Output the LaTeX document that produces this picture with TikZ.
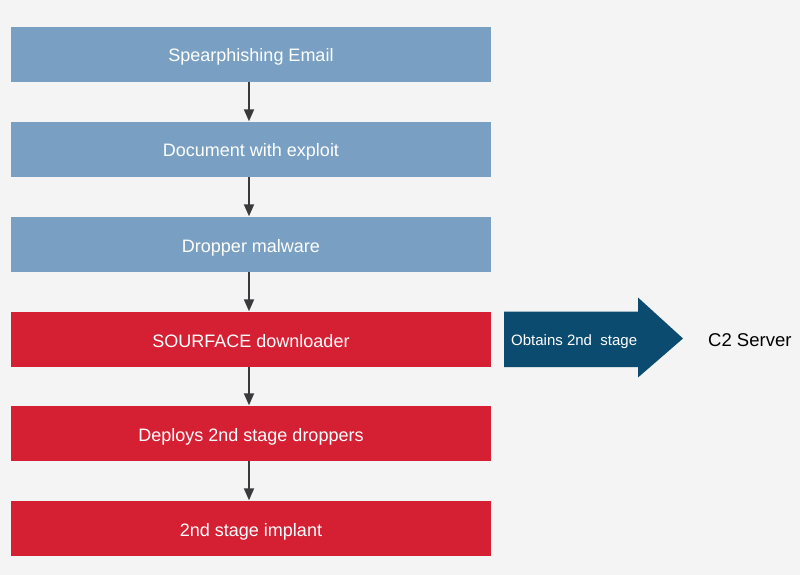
\documentclass[tikz,border=0pt]{standalone}
\usepackage{fontspec}
\setmainfont{Liberation Sans}
\usetikzlibrary{arrows.meta}
\definecolor{bg}{HTML}{F4F4F4}
\definecolor{boxblue}{HTML}{79A0C3}
\definecolor{boxred}{HTML}{D52034}
\definecolor{navy}{HTML}{0B4B70}
\definecolor{arr}{HTML}{3A3A3C}
\begin{document}
\begin{tikzpicture}[x=1pt,y=-1pt,
  stagebox/.style={rectangle, minimum width=480pt, minimum height=55pt, inner sep=0pt,
    text height=15pt, text depth=0pt,
    text=white, font=\fontsize{18}{21}\selectfont},
  bluebox/.style={stagebox, fill=boxblue},
  redbox/.style={stagebox, fill=boxred},
  flow/.style={draw=arr, line width=1.8pt, -{Triangle[length=12pt,width=10pt]}, shorten >=0.5pt}]
\fill[bg] (0,0) rectangle (800,575);
\useasboundingbox (0,0) rectangle (800,575);
\node[bluebox] (b1) at (251,54.5) {Spearphishing Email};
\node[bluebox] (b2) at (251,149.5) {Document with exploit};
\node[bluebox] (b3) at (251,244.5) {Dropper malware};
\node[redbox] (b4) at (251,339.5) {SOURFACE downloader};
\node[redbox] (b5) at (251,433.5) {Deploys 2nd stage droppers};
\node[redbox] (b6) at (251,528.5) {2nd stage implant};
\draw[flow] ([xshift=-2pt]b1.south) -- ([xshift=-2pt]b2.north);
\draw[flow] ([xshift=-2pt]b2.south) -- ([xshift=-2pt]b3.north);
\draw[flow] ([xshift=-2pt]b3.south) -- ([xshift=-2pt]b4.north);
\draw[flow] ([xshift=-2pt]b4.south) -- ([xshift=-2pt]b5.north);
\draw[flow] ([xshift=-2pt]b5.south) -- ([xshift=-2pt]b6.north);
% big arrow
\coordinate (a1) at (504,311.5);
\coordinate (a2) at (638,311.5);
\coordinate (a3) at (638,297.5);
\coordinate (tip) at (683,338.5);
\coordinate (a5) at (638,377.5);
\coordinate (a6) at (638,367);
\coordinate (a7) at (504,367);
\fill[navy] (a1) -- (a2) -- (a3) -- (tip) -- (a5) -- (a6) -- (a7) -- cycle;
\node[anchor=base west, text=white, inner sep=0pt, font=\fontsize{15}{18}\selectfont] (obt) at (511,345) {Obtains 2nd\ \ stage};
\node[anchor=base west, text=black, inner sep=0pt, font=\fontsize{18.5}{21}\selectfont] (c2) at (708,346.5) {C2 Server};
\end{tikzpicture}
\end{document}
